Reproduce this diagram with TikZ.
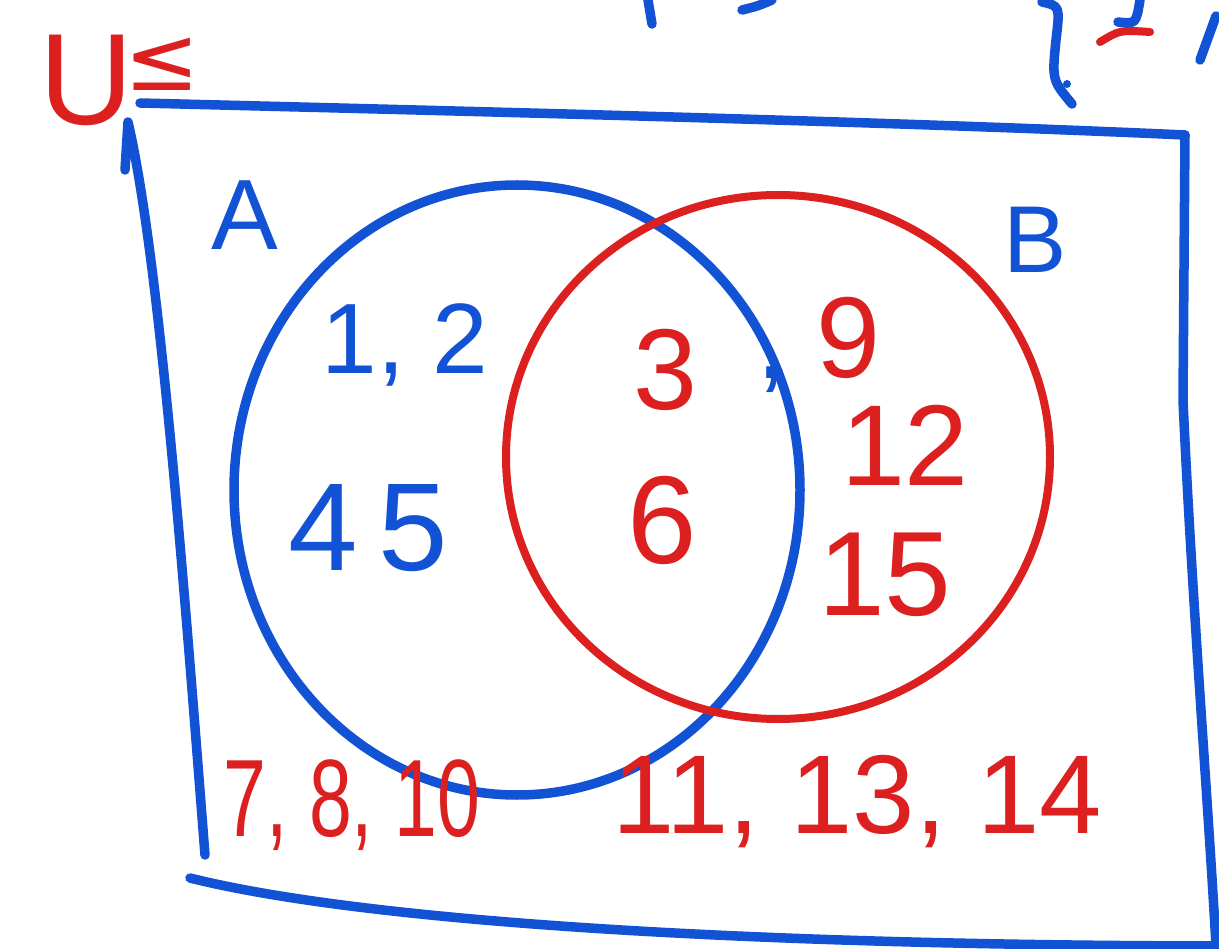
\documentclass[tikz,border=0pt]{standalone}
\usepackage{fontspec}
\setmainfont{Liberation Sans}
\newfontfamily\symfont{DejaVu Sans}
\definecolor{penblue}{RGB}{18,82,212}
\definecolor{penred}{RGB}{220,32,32}
\begin{document}
\begin{tikzpicture}[x=1pt,y=-1pt,line cap=round,line join=round,
  bluepen/.style={draw=penblue,line width=9.5pt},
  redpen/.style={draw=penred,line width=8pt},
  bluetext/.style={text=penblue,inner sep=0pt},
  redtext/.style={text=penred,inner sep=0pt},
  big/.style={font=\fontsize{#1}{#1}\selectfont}]
\useasboundingbox (0,0) rectangle (1219,949);
% cut-off writing at the top edge
\draw[bluepen] (648,0) -- (652,24);
\draw[bluepen] (742,10) .. controls (758,6) .. (772,0);
\draw[bluepen] (1042,2) .. controls (1060,6) .. (1056,40) .. controls (1052,80) .. (1072,104);
\fill[penblue] (1067,84) circle (4);
\draw[bluepen] (1118,22) .. controls (1136,24) .. (1140,0);
\draw[redpen] (1100,42) .. controls (1120,30) .. (1150,32);
\draw[bluepen] (1216,16) -- (1200,60);
% universe box
\coordinate (tl) at (140,103);
\coordinate (tr) at (1185,135);
\coordinate (br) at (1216,946);
\coordinate (bl) at (190,878);
\coordinate (lt) at (128,122);
\coordinate (lb) at (205,855);
\draw[bluepen] (tl) .. controls (500,112) and (900,122) .. (tr);
\draw[bluepen] (tr) -- (1183,400) .. controls (1192,600) and (1208,800) .. (br);
\draw[bluepen] (bl) .. controls (350,918) and (700,945) .. (br) -- (1219,946);
\draw[bluepen] (125,170) -- (lt) .. controls (160,260) and (185,600) .. (lb);
\node[redtext,big=130] (U) at (86,80) {U};
\node[redtext,font=\symfont\fontsize{90}{90}\selectfont] (le) at (162,64) {≤};
% sets
\draw[bluepen] (517,490) ellipse [x radius=283, y radius=305];
\draw[redpen] (778,457) ellipse [x radius=272, y radius=262];
\node[bluetext,big=100] (A) at (245,215) {A};
\node[bluetext,big=95] (B) at (1035,240) {B};
% A only
\node[bluetext,big=100] (a12) at (405,345) {1, 2};
\node[bluetext,big=125] (a45) at (368,528) {4\,5};
% intersection
\node[redtext,big=115] (i3) at (665,370) {3};
\node[bluetext,big=110] (ic) at (772,380) {,};
\node[redtext,big=125] (i6) at (662,520) {6};
% B only
\node[redtext,big=115] (b9) at (848,338) {9};
\node[redtext,big=115] (b12) at (905,445) {12};
\node[redtext,big=120] (b15) at (885,575) {15};
% outside
\node[redtext,big=110] (o1) at (352,805) {\scalebox{0.7}[1]{7, 8, 10}};
\node[redtext,big=112] (o2) at (857,802) {11, 13, 14};
\end{tikzpicture}
\end{document}
